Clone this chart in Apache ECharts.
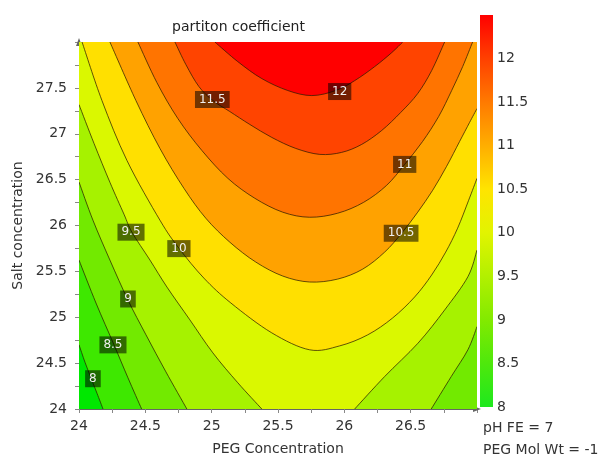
<!DOCTYPE html>
<html><head><meta charset="utf-8">
<script src="https://cdn.jsdelivr.net/npm/echarts@6/dist/echarts.min.js"></script>
<style>html,body{margin:0;padding:0;background:#fff}#c{width:607px;height:457px}</style>
</head><body><div id="c"></div>
<script>
// ---- axis ranges / ticks ----
const xRange = [24, 27];
const yRange = [24, 28];
const colorRange = [8, 12.5];
const tickStep = 0.5;

// ---- contour levels and contour curves (PEG, Salt) ----
const levels = [8, 8.5, 9, 9.5, 10, 10.5, 11, 11.5, 12];
const c8   = [[24,24.70],[24.045,24.51],[24.09,24.34],[24.136,24.17],[24.181,24]];
const c85  = [[24,25.623],[24.128,25.155],[24.264,24.699],[24.369,24.34],[24.472,24]];
const c9L  = [[24,26.474],[24.105,26.058],[24.233,25.623],[24.369,25.188],[24.505,24.808],[24.655,24.405],[24.813,24]];
const c9R  = [[26.655,24],[26.806,24.354],[26.931,24.645],[27,24.898]];
const c95L = [[24,27.318],[24.113,26.895],[24.233,26.471],[24.339,26.123],[24.399,25.927],[24.535,25.623],[24.663,25.329],[24.836,24.971],[25.009,24.612],[25.197,24.286],[25.378,24]];
const c95R = [[26.078,24],[26.304,24.354],[26.555,24.717],[26.756,25.079],[26.931,25.441],[27,25.732]];
const c10  = [[24.023,28],[24.173,27.362],[24.361,26.71],[24.61,26.058],[24.753,25.753],[24.941,25.427],[25.145,25.155],[25.453,24.83],[25.739,24.645],[25.965,24.688],[26.176,24.808],[26.364,24.992],[26.53,25.221],[26.658,25.46],[26.764,25.71],[26.854,25.971],[26.937,26.275],[27,26.514]];
const c105 = [[24.233,28],[24.429,27.362],[24.61,26.84],[24.791,26.405],[24.956,26.079],[25.137,25.818],[25.333,25.601],[25.536,25.449],[25.739,25.384],[25.95,25.416],[26.139,25.525],[26.304,25.71],[26.432,25.916],[26.553,26.145],[26.666,26.384],[26.771,26.645],[26.869,26.916],[26.944,27.123],[27,27.275]];
const c11  = [[24.444,28],[24.587,27.558],[24.745,27.166],[24.926,26.818],[25.122,26.514],[25.325,26.297],[25.536,26.145],[25.739,26.09],[25.95,26.134],[26.146,26.253],[26.319,26.438],[26.455,26.666],[26.59,26.916],[26.711,27.188],[26.809,27.471],[26.892,27.732],[26.967,28]];
const c115 = [[24.723,28],[24.806,27.753],[24.904,27.514],[25.009,27.362],[25.137,27.242],[25.288,27.101],[25.453,26.96],[25.634,26.84],[25.815,26.775],[25.98,26.797],[26.131,26.884],[26.282,27.036],[26.425,27.232],[26.553,27.438],[26.658,27.688],[26.756,28]];
const c12  = [[25.024,28],[25.197,27.786],[25.378,27.601],[25.574,27.471],[25.755,27.416],[25.935,27.471],[26.078,27.579],[26.229,27.732],[26.357,27.884],[26.44,28]];

// ---- contour labels ----
const labelX    = [24.105, 24.256, 24.369, 24.392, 24.753, 26.428, 26.455, 25.005, 25.965];
const labelY    = [24.330, 24.699, 25.199, 25.927, 25.748, 25.916, 26.666, 27.373, 27.460];
const labelText = ['8','8.5','9','9.5','10','10.5','11','11.5','12'];

// ---- styles ----
const bandColors = ['#00e800','#3ee800','#72ea00','#a6f200','#daf800','#ffe000','#ffa200','#ff7400','#ff4400','#ff0000'];
const barStops = [
  [0,'#1ee81e'],[1/9,'#4ee80c'],[2/9,'#82ea00'],[3/9,'#b2f000'],[4/9,'#e2f400'],
  [5/9,'#ffe400'],[6/9,'#ffae00'],[7/9,'#ff7a00'],[8/9,'#ff4000'],[1,'#ff0000']
];
const FONT = '"DejaVu Sans", Verdana, sans-serif';

const [x0, x1] = xRange, [y0, y1] = yRange;
// superlevel regions: curve branches + enclosing plot corners
const regions = [
  {branches: [c8],         corners: [[x1,y0],[x1,y1],[x0,y1]]},
  {branches: [c85],        corners: [[x1,y0],[x1,y1],[x0,y1]]},
  {branches: [c9L, c9R],   corners: [[x1,y1],[x0,y1]]},
  {branches: [c95L, c95R], corners: [[x1,y1],[x0,y1]]},
  {branches: [c10],        corners: [[x1,y1]]},
  {branches: [c105],       corners: [[x1,y1]]},
  {branches: [c11],        corners: []},
  {branches: [c115],       corners: []},
  {branches: [c12],        corners: []}
];
const lineBranches = [c8, c85, c9L, c9R, c95L, c95R, c10, c105, c11, c115, c12];

function smoothSeg(P, first) {
  let d = (first ? 'M' : 'L') + P[0][0] + ' ' + P[0][1];
  for (let i = 0; i < P.length - 1; i++) {
    const p0 = P[i-1] || P[i], p1 = P[i], p2 = P[i+1], p3 = P[i+2] || P[i+1];
    const a = [p1[0] + (p2[0]-p0[0])/6, p1[1] + (p2[1]-p0[1])/6];
    const b = [p2[0] - (p3[0]-p1[0])/6, p2[1] - (p3[1]-p1[1])/6];
    d += ' C' + a[0] + ' ' + a[1] + ' ' + b[0] + ' ' + b[1] + ' ' + p2[0] + ' ' + p2[1];
  }
  return d;
}

const chart = echarts.init(document.getElementById('c'), null, {renderer: 'canvas'});
const axisCommon = {
  type: 'value', interval: tickStep,
  axisLine: {show: true, onZero: false, symbol: ['none','triangle'], symbolSize: [6, 8], lineStyle: {color: '#666', width: 1}},
  axisTick: {show: true, length: 4, lineStyle: {color: '#888'}},
  minorTick: {show: true, splitNumber: 2, length: 4, lineStyle: {color: '#888'}},
  splitLine: {show: false},
  axisLabel: {color: '#333', fontSize: 14, fontFamily: FONT, showMaxLabel: false},
  nameLocation: 'middle',
  nameTextStyle: {color: '#333', fontSize: 14, fontFamily: FONT}
};

chart.setOption({
  animation: false,
  backgroundColor: '#fff',
  title: {text: 'partiton coefficient', left: 172, top: 20, padding: 0,
    textStyle: {color: '#222', fontSize: 14, fontWeight: 'normal', fontFamily: FONT}},
  grid: [
    {left: 79, top: 42, width: 398, height: 367, outerBoundsMode: 'none', containLabel: false},
    {left: 480, top: 15, width: 13, height: 392, outerBoundsMode: 'none', containLabel: false}
  ],
  xAxis: [
    Object.assign({}, axisCommon, {gridIndex: 0, min: x0, max: x1, name: 'PEG Concentration', nameGap: 33,
      axisLabel: Object.assign({}, axisCommon.axisLabel, {margin: 10})}),
    {type: 'value', gridIndex: 1, min: 0, max: 1, show: false}
  ],
  yAxis: [
    Object.assign({}, axisCommon, {gridIndex: 0, min: y0, max: y1, name: 'Salt concentration', nameGap: 53,
      axisLabel: Object.assign({}, axisCommon.axisLabel, {margin: 12})}),
    {type: 'value', gridIndex: 1, min: colorRange[0], max: colorRange[1], interval: tickStep, position: 'right',
      axisLine: {show: false}, axisTick: {show: false}, splitLine: {show: false},
      axisLabel: {margin: 4, color: '#333', fontSize: 14, fontFamily: FONT, showMaxLabel: false}}
  ],
  series: [
    { // filled bands
      type: 'custom', xAxisIndex: 0, yAxisIndex: 0, clip: true, silent: true,
      data: bandColors.map((c, i) => [x0, y0, i]),
      renderItem: function (params, api) {
        const idx = params.dataIndex;
        let d;
        if (idx === 0) {
          const P = [[x0,y0],[x1,y0],[x1,y1],[x0,y1]].map(p => api.coord(p));
          d = 'M' + P.map(p => p[0] + ' ' + p[1]).join(' L') + ' Z';
        } else {
          const r = regions[idx - 1];
          d = '';
          r.branches.forEach((b, bi) => { d += smoothSeg(b.map(p => api.coord(p)), bi === 0) + ' '; });
          r.corners.forEach(p => { const q = api.coord(p); d += 'L' + q[0] + ' ' + q[1] + ' '; });
          d += 'Z';
        }
        return {type: 'path', shape: {pathData: d}, style: {fill: bandColors[idx], stroke: null}};
      }
    },
    { // contour lines
      type: 'custom', xAxisIndex: 0, yAxisIndex: 0, clip: true, silent: true,
      data: lineBranches.map((b, i) => [x0, y0, i]),
      renderItem: function (params, api) {
        const b = lineBranches[params.dataIndex];
        return {type: 'path', shape: {pathData: smoothSeg(b.map(p => api.coord(p)), true)},
          style: {fill: null, stroke: 'rgba(40,25,0,0.8)', lineWidth: 0.9}};
      }
    },
    { // contour labels
      type: 'custom', xAxisIndex: 0, yAxisIndex: 0, silent: true,
      data: labelText.map((t, i) => [labelX[i], labelY[i], i]),
      renderItem: function (params, api) {
        const p = api.coord([api.value(0), api.value(1)]);
        return {type: 'text', x: p[0], y: p[1],
          style: {text: labelText[params.dataIndex], fill: '#f0f0f0', font: '12px ' + FONT,
            align: 'center', verticalAlign: 'middle', backgroundColor: 'rgba(0,0,0,0.55)', padding: [3, 4, 2, 4]}};
      }
    },
    { // colour bar
      type: 'custom', xAxisIndex: 1, yAxisIndex: 1, silent: true,
      data: [[0, colorRange[0]]],
      renderItem: function (params, api) {
        const a = api.coord([0, colorRange[0]]), b = api.coord([1, colorRange[1]]);
        return {type: 'rect', shape: {x: a[0], y: b[1], width: b[0]-a[0], height: a[1]-b[1]},
          style: {fill: new echarts.graphic.LinearGradient(0, 1, 0, 0, barStops.map(s => ({offset: s[0], color: s[1]})))}};
      }
    }
  ],
  graphic: [
    {type: 'text', left: 483, top: 421, style: {text: 'pH FE = 7', fill: '#333', font: '14px ' + FONT}},
    {type: 'text', left: 483, top: 443, style: {text: 'PEG Mol Wt = -1', fill: '#333', font: '14px ' + FONT}}
  ]
});
</script>
</body></html>
